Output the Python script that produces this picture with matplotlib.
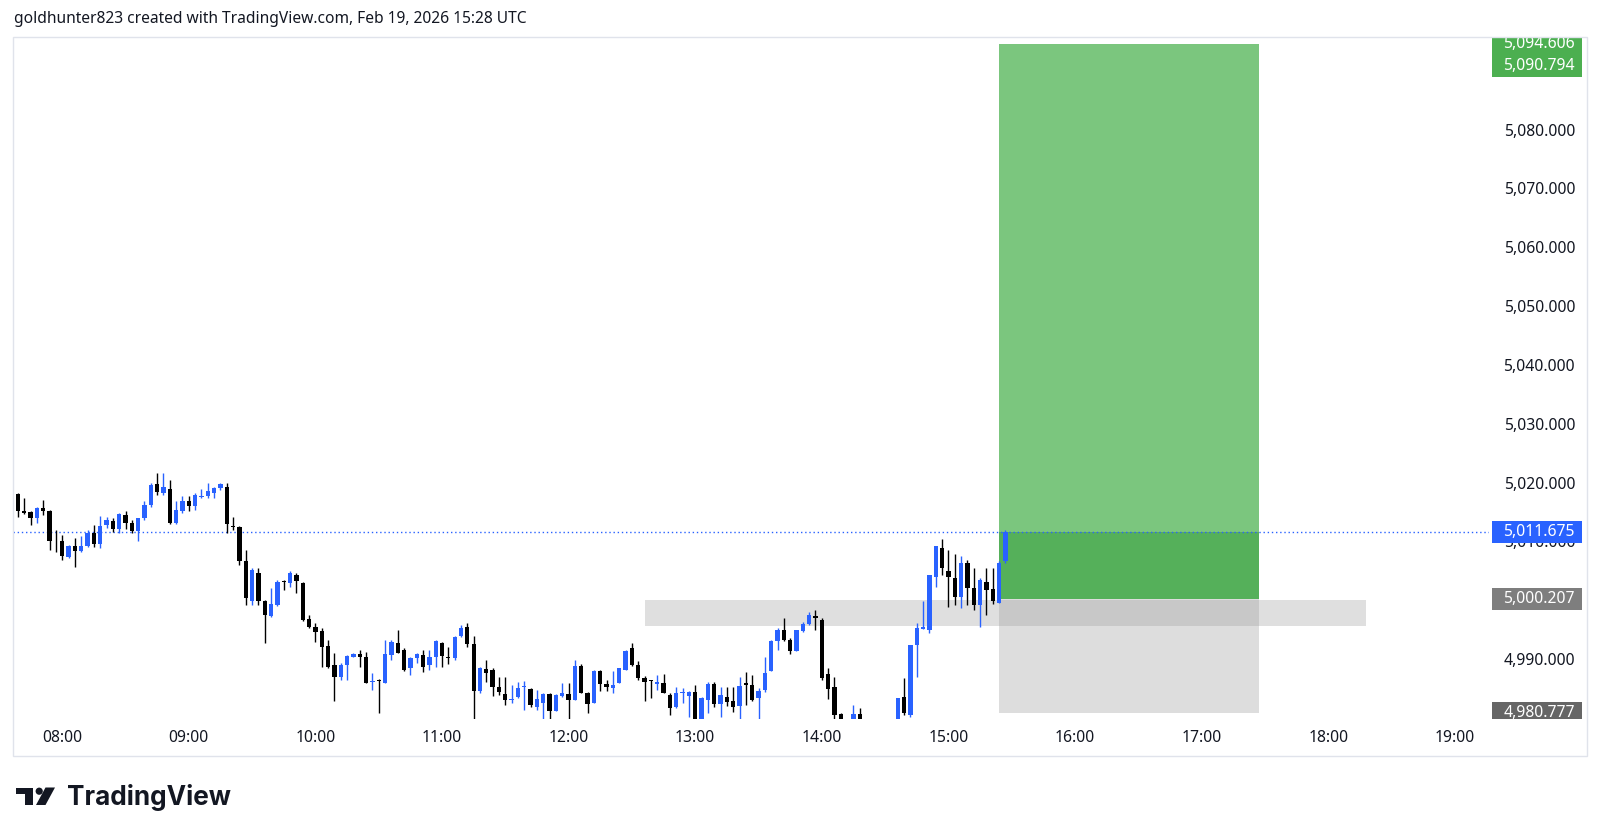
import numpy as np
import pandas as pd
import matplotlib
matplotlib.use("Agg")
import matplotlib.pyplot as plt
from matplotlib import transforms
from matplotlib.patches import Rectangle, Polygon, Circle

# 3-minute XAUUSD candles, 07:39 -> 15:27 UTC
opens = [5018.1, 5015.2, 5015.0, 5013.9, 5015.6, 5015.2, 5010.1, 5010.0, 5007.3, 5009.2,
         5008.4, 5009.2, 5011.5, 5009.5, 5012.8, 5013.5, 5012.1, 5014.5, 5013.2, 5011.8,
         5013.9, 5016.2, 5019.7, 5018.2, 5018.9, 5013.1, 5015.2, 5016.8, 5016.1, 5017.6,
         5017.7, 5018.2, 5019.0, 5019.3, 5012.6, 5012.5, 5006.7, 4999.9, 5004.6, 4999.9,
         4997.4, 4999.2, 5003.3, 5002.9, 5004.3, 5003.0, 4996.8, 4995.5, 4994.8, 4992.2,
         4989.0, 4987.0, 4989.0, 4990.4, 4990.8, 4990.4, 4986.1, 4986.5, 4986.0, 4990.7,
         4992.8, 4991.6, 4988.4, 4990.1, 4990.7, 4989.0, 4990.3, 4992.7, 4990.4, 4990.1,
         4993.9, 4995.5, 4992.5, 4984.5, 4988.3, 4988.1, 4985.3, 4984.0, 4983.0, 4983.5,
         4985.2, 4984.9, 4981.9, 4982.5, 4984.0, 4981.2, 4983.8, 4984.0, 4983.0, 4988.9,
         4984.3, 4982.6, 4988.0, 4985.8, 4985.0, 4986.0, 4988.2, 4991.8, 4989.0, 4986.7,
         4986.4, 4985.7, 4985.9, 4983.9, 4981.8, 4984.2, 4983.7, 4984.4, 4979.7, 4983.0,
         4985.7, 4982.4, 4983.5, 4982.9, 4982.0, 4985.9, 4985.6, 4983.4, 4984.7, 4988.0,
         4993.0, 4994.9, 4993.3, 4991.4, 4994.8, 4995.9, 4997.4, 4996.7, 4987.4, 4985.3,
         4980.6, 4979.3, 4978.3, 4980.65, 4979.2, 4978.5, 4977.6, 4976.8, 4977.9, 4979.3,
         4983.5, 4980.5, 4992.4, 4995.1, 4994.9, 5004.0, 5008.8, 5004.9, 5003.7, 5000.6,
         5006.3, 5002.1, 4999.2, 5003.1, 5001.9, 4999.6, 5006.7]
highs = [5018.2, 5017.3, 5015.1, 5015.9, 5017.0, 5015.3, 5011.9, 5011.1, 5009.4, 5010.5,
         5010.9, 5011.9, 5012.8, 5014.3, 5014.2, 5013.9, 5014.8, 5015.2, 5013.6, 5014.0,
         5016.8, 5019.9, 5021.7, 5021.7, 5020.4, 5016.8, 5017.7, 5017.7, 5018.2, 5018.9,
         5019.9, 5019.3, 5020.0, 5020.0, 5014.2, 5012.6, 5008.5, 5005.4, 5005.4, 5000.0,
         5002.0, 5003.5, 5003.5, 5005.0, 5004.6, 5003.1, 4997.5, 4996.1, 4995.2, 4993.2,
         4991.0, 4989.3, 4990.7, 4991.0, 4991.5, 4991.2, 4987.7, 4986.6, 4993.2, 4993.2,
         4995.0, 4991.8, 4990.4, 4991.1, 4991.5, 4991.6, 4993.2, 4992.9, 4992.0, 4993.9,
         4995.8, 4996.1, 4993.9, 4988.7, 4989.9, 4988.4, 4987.0, 4986.9, 4985.6, 4986.1,
         4986.3, 4985.0, 4984.7, 4984.2, 4984.2, 4984.0, 4985.9, 4985.9, 4989.9, 4989.1,
         4984.4, 4988.1, 4988.2, 4986.5, 4988.0, 4988.5, 4991.6, 4992.7, 4989.7, 4987.1,
         4986.4, 4987.3, 4987.5, 4984.2, 4985.2, 4985.0, 4984.6, 4985.6, 4983.6, 4986.1,
         4986.1, 4985.2, 4985.2, 4985.3, 4986.9, 4987.8, 4987.3, 4985.0, 4990.4, 4993.2,
         4995.2, 4996.9, 4993.5, 4995.0, 4996.3, 4998.0, 4998.3, 4996.9, 4988.4, 4987.0,
         4980.8, 4979.6, 4982.2, 4981.6, 4979.9, 4979.3, 4978.4, 4978.8, 4979.6, 4983.4,
         4986.7, 4992.4, 4996.1, 4999.8, 5004.3, 5009.3, 5010.4, 5008.5, 5007.8, 5007.6,
         5006.8, 5005.4, 5003.7, 5005.4, 5005.4, 5006.7, 5011.9]
lows = [5014.2, 5014.6, 5012.8, 5013.1, 5014.5, 5008.5, 5008.2, 5006.8, 5007.2, 5005.7,
        5008.2, 5009.0, 5009.0, 5008.8, 5012.2, 5011.6, 5011.4, 5012.1, 5011.5, 5010.0,
        5013.6, 5015.9, 5017.9, 5017.9, 5013.0, 5013.0, 5014.8, 5015.2, 5015.3, 5017.3,
        5017.3, 5017.3, 5018.7, 5011.4, 5011.9, 5006.0, 4999.2, 4999.2, 4999.2, 4992.7,
        4997.2, 4999.1, 5001.7, 5002.3, 5001.2, 4996.5, 4995.2, 4992.9, 4988.6, 4988.4,
        4982.8, 4986.4, 4986.5, 4990.3, 4988.6, 4985.9, 4984.7, 4980.9, 4986.0, 4989.8,
        4991.0, 4988.0, 4987.3, 4989.3, 4987.8, 4988.1, 4988.7, 4988.7, 4989.2, 4989.9,
        4993.8, 4992.1, 4979.9, 4984.3, 4986.1, 4983.7, 4983.9, 4982.2, 4982.5, 4983.3,
        4981.3, 4981.8, 4981.3, 4979.9, 4979.9, 4981.1, 4983.6, 4979.9, 4983.0, 4984.2,
        4980.9, 4982.6, 4984.6, 4984.6, 4984.2, 4986.0, 4988.1, 4988.8, 4986.5, 4982.9,
        4983.3, 4984.7, 4984.2, 4980.5, 4981.6, 4982.5, 4980.2, 4979.6, 4979.6, 4980.8,
        4981.9, 4980.2, 4982.0, 4981.0, 4979.9, 4982.2, 4982.8, 4979.9, 4984.4, 4987.9,
        4991.5, 4993.0, 4990.8, 4991.3, 4994.6, 4995.8, 4994.9, 4986.4, 4983.2, 4979.9,
        4978.5, 4977.2, 4977.9, 4978.6, 4977.8, 4976.9, 4975.9, 4976.2, 4977.4, 4979.0,
        4980.5, 4980.2, 4987.0, 4995.1, 4994.4, 5002.3, 5004.3, 4998.9, 4999.2, 4998.7,
        4999.2, 4998.3, 4995.5, 4997.5, 4999.3, 4999.5, 5006.3]
closes = [5015.2, 5014.8, 5013.9, 5015.6, 5015.2, 5010.1, 5010.0, 5007.6, 5009.2, 5008.3,
          5009.2, 5011.5, 5009.5, 5012.6, 5013.7, 5012.1, 5014.6, 5013.1, 5011.8, 5014.0,
          5016.2, 5019.6, 5018.4, 5019.2, 5013.1, 5015.4, 5016.8, 5016.1, 5017.9, 5017.8,
          5018.6, 5019.0, 5019.7, 5013.0, 5012.5, 5006.6, 5000.3, 5005.1, 4999.9, 4997.5,
          4999.4, 5003.1, 5003.1, 5004.7, 5003.3, 4996.6, 4995.5, 4994.6, 4992.0, 4988.6,
          4987.0, 4989.0, 4990.6, 4990.8, 4990.4, 4986.0, 4986.2, 4986.3, 4990.9, 4992.9,
          4991.1, 4988.2, 4990.2, 4990.9, 4988.7, 4990.4, 4993.1, 4990.6, 4990.1, 4993.7,
          4995.2, 4992.5, 4984.5, 4988.4, 4987.7, 4985.3, 4984.4, 4983.0, 4983.2, 4985.1,
          4985.4, 4982.2, 4983.2, 4984.1, 4981.2, 4983.9, 4984.2, 4983.1, 4988.9, 4984.3,
          4982.4, 4988.0, 4985.8, 4985.2, 4985.6, 4988.4, 4991.4, 4989.0, 4986.7, 4986.1,
          4986.3, 4986.1, 4984.3, 4981.6, 4984.3, 4984.3, 4984.4, 4979.7, 4983.3, 4985.7,
          4982.4, 4983.9, 4982.7, 4981.9, 4985.4, 4985.6, 4983.0, 4984.6, 4987.6, 4993.0,
          4994.9, 4993.2, 4991.3, 4994.9, 4995.9, 4997.5, 4996.9, 4986.8, 4984.9, 4980.5,
          4979.3, 4978.0, 4980.6, 4979.2, 4978.5, 4977.6, 4976.8, 4977.9, 4979.3, 4983.3,
          4980.8, 4992.4, 4995.2, 4995.4, 5004.3, 5009.3, 5005.4, 5004.0, 5000.6, 5006.3,
          5002.0, 4999.2, 5003.4, 5001.7, 4999.9, 5006.4, 5011.675]

# long position tool + supply/demand zone
take_profit = 5094.606
target_2 = 5090.794
entry = 5000.207
stop = 4980.777
last_price = 5011.675
pos_start, pos_end = "15:24", "17:27"
zone_start, zone_end = "12:36", "18:18"
zone_low, zone_high = 4995.7, 5000.0

hour_ticks = list(range(8, 20))
price_ticks = list(range(4990, 5090, 10))

BLUE = "#2962ff"
INK = "#131722"


def to_hours(hhmm):
    h, m = hhmm.split(":")
    return int(h) + int(m) / 60


def main():
    o = np.array(opens)
    h = np.array(highs)
    l = np.array(lows)
    c = np.array(closes)
    times = pd.date_range("2026-02-19 07:39", periods=len(o), freq="3min")
    x = np.asarray(times.hour + times.minute / 60.0)
    up = c >= o
    col = np.where(up, BLUE, "#000000")

    fig = plt.figure(figsize=(16, 8.38), dpi=100)
    W, H = 1600, 838
    ymin, ymax = 4979.9, 5095.74
    ax_box = [13.3 / W, 1 - 718.5 / H, (1489 - 13.3) / W, (718.5 - 37) / H]
    ax = fig.add_axes(ax_box)
    ax.set_xlim(7.6137, 19.27)
    ax.set_ylim(ymin, ymax)
    for s in ax.spines.values():
        s.set_visible(False)

    # zone and position tool
    ax.fill_between([to_hours(zone_start), to_hours(zone_end)], zone_low, zone_high,
                    color="#9e9e9e", alpha=0.32, lw=0, zorder=1)
    px = [to_hours(pos_start), to_hours(pos_end)]
    ax.fill_between(px, entry, take_profit, color="#7bc67e", lw=0, zorder=1)
    ax.fill_between(px, entry, last_price, color="#55b05a", lw=0, zorder=1.1)
    ax.fill_between(px, stop, entry, color="#9e9e9e", alpha=0.34, lw=0, zorder=1)

    # candles
    ax.vlines(x, l, h, colors=col, lw=1, zorder=3)
    body = np.maximum(np.abs(c - o), 0.15)
    ax.bar(x, body, bottom=np.minimum(o, c), width=0.034, color=col, lw=0, zorder=4)

    ax.axhline(last_price, color=BLUE, lw=1, ls=(0, (1, 2)), zorder=2)

    ax.set_xticks(hour_ticks)
    ax.set_xticklabels([f"{t:02d}:00" for t in hour_ticks])
    ax.yaxis.tick_right()
    ax.set_yticks(price_ticks)
    ax.set_yticklabels([f"{v:,.3f}" for v in price_ticks])
    ax.tick_params(length=0, labelsize=11.3, labelcolor=INK, labelfontfamily="Noto Sans")
    ax.tick_params(axis="x", pad=8.5)
    ax.tick_params(axis="y", pad=62)
    for t in ax.get_yticklabels():
        t.set_ha("right")

    # price scale labels
    pax = fig.add_axes([1489 / W, ax_box[1], (1587 - 1489) / W, ax_box[3]])
    pax.set_ylim(ymin, ymax)
    pax.set_xlim(0, 1)
    pax.axis("off")
    box_h = 22 * (ymax - ymin) / (ax_box[3] * H)
    tr = transforms.blended_transform_factory(pax.transAxes, pax.transData)
    tags = [(take_profit, "#4caf50"), (target_2, "#4caf50"), (last_price, BLUE),
            (entry, "#7e7e7e"), (stop, "#666666")]
    for v, fc in tags:
        pax.add_patch(Rectangle((0.03, v - box_h / 2), 0.92, box_h, transform=tr,
                                fc=fc, ec="none", clip_on=True, zorder=2))
    for v, fc in tags:
        pax.text(0.878, v, f"{v:,.3f}", transform=tr, ha="right", va="center",
                 color="white", fontsize=11.3, family="Noto Sans", clip_on=True, zorder=3)

    # frame + header + logo
    fig.patches.append(Rectangle((13.3, H - 756), 1587 - 13.3, 756 - 36.7,
                                 transform=None, fill=False, ec="#e0e3eb", lw=1))
    fig.text(14.3 / W, 1 - 19.4 / H,
             "goldhunter823 created with TradingView.com, Feb 19, 2026 15:28 UTC",
             ha="left", va="center", fontsize=11.2, color=INK, family="Noto Sans")

    def p(xx, yy):
        return (xx, H - yy)

    fig.patches.append(Polygon([p(16, 787.5), p(33, 787.5), p(33, 805), p(25, 805),
                                p(25, 793.5), p(16, 793.5)], transform=None, fc=INK, ec="none"))
    fig.patches.append(Circle(p(39.2, 791.2), 3.6, transform=None, fc=INK, ec="none"))
    fig.patches.append(Polygon([p(45.5, 787.5), p(55, 787.5), p(45.5, 805), p(36, 805)],
                               transform=None, fc=INK, ec="none"))
    fig.text(67 / W, 1 - 805 / H, "TradingView", ha="left", va="baseline",
             fontsize=18.8, fontweight="bold", color=INK, family="Inter")

    fig.savefig("out.png", dpi=100, facecolor="white")


if __name__ == "__main__":
    main()
